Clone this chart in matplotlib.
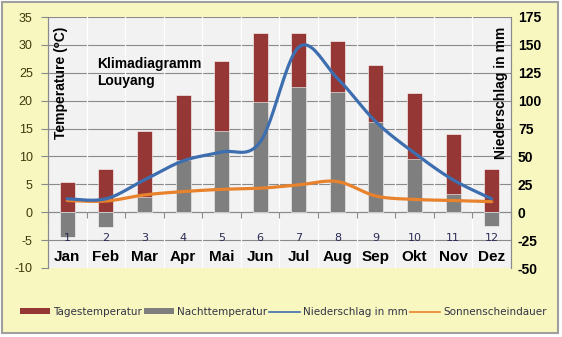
import numpy as np
import matplotlib
matplotlib.use("Agg")
import matplotlib.pyplot as plt
from matplotlib.patches import Rectangle, Patch
from matplotlib.lines import Line2D

months = ["Jan", "Feb", "Mar", "Apr", "Mai", "Jun", "Jul", "Aug", "Sep", "Okt", "Nov", "Dez"]
month_nums = [str(i) for i in range(1, 13)]
day_temp = [5.5, 7.8, 14.5, 21.1, 27.2, 32.2, 32.2, 30.7, 26.4, 21.3, 14.1, 7.8]
night_temp = [-4.4, -2.6, 2.7, 9.3, 14.6, 19.7, 22.5, 21.6, 16.2, 9.6, 3.2, -2.5]
precip_mm = [12, 12, 29, 46, 54, 63, 148, 120, 81, 53, 29, 12]
sunshine = [2.1, 2.0, 3.1, 3.7, 4.1, 4.3, 4.9, 5.5, 2.9, 2.3, 2.1, 1.9]

plt.rcParams['font.family'] = ['Liberation Sans', 'DejaVu Sans']
plt.rcParams['axes.unicode_minus'] = False


def smooth(x, y, n=24):
    # Excel-like smoothed line (Catmull-Rom as cubic Bezier)
    x = np.asarray(x, float)
    y = np.asarray(y, float)
    px = np.concatenate([[x[0]], x, [x[-1]]])
    py = np.concatenate([[y[0]], y, [y[-1]]])
    t = np.linspace(0, 1, n)[:, None]
    xs, ys = [], []
    for i in range(1, len(x)):
        p0 = np.array([px[i], py[i]])
        p3 = np.array([px[i + 1], py[i + 1]])
        c1 = p0 + (np.array([px[i + 1], py[i + 1]]) - np.array([px[i - 1], py[i - 1]])) / 6
        c2 = p3 - (np.array([px[i + 2], py[i + 2]]) - np.array([px[i], py[i]])) / 6
        pts = ((1 - t) ** 3) * p0 + 3 * ((1 - t) ** 2) * t * c1 + 3 * (1 - t) * t ** 2 * c2 + t ** 3 * p3
        xs.append(pts[:, 0])
        ys.append(pts[:, 1])
    return np.concatenate(xs), np.concatenate(ys)


fig = plt.figure(figsize=(5.62, 3.37), dpi=100, facecolor='white')
fig.patches.append(Rectangle((2 / 562, 4 / 337), 556 / 562, 331 / 337, transform=fig.transFigure,
                             facecolor='#f8f7c0', edgecolor='#a0a0a0', lw=1.5, zorder=-5))

ax = fig.add_axes([48 / 562, 69 / 337, 463 / 562, 251 / 337])
ax.set_facecolor('#f2f2f2')
ax2 = ax.twinx()

x = np.arange(1, 13)
ax.set_xlim(0.5, 12.5)
ax.set_ylim(-10, 35)
ax2.set_ylim(-50, 175)

# gridlines
for v in range(-5, 36, 5):
    ax.axhline(v, color='#8a8a8a', lw=0.8, zorder=1)
for b in np.arange(1.5, 12.5, 1):
    ax.axvline(b, color='white', lw=0.9, zorder=1)

ax.bar(x, day_temp, width=0.39, color='#953735', edgecolor='white', lw=0.4, zorder=2)
ax.bar(x, night_temp, width=0.39, color='#7f7f7f', edgecolor='white', lw=0.4, zorder=3)

sx, sy = smooth(x, sunshine)
ax.plot(sx, sy, color='#e8822c', lw=2.3, zorder=4, solid_capstyle='round')
px_, py_ = smooth(x, precip_mm)
ax2.plot(px_, py_, color='#3d6fb0', lw=2.3, zorder=5, solid_capstyle='round')
ax2.set_zorder(ax.get_zorder() + 1)
ax2.patch.set_visible(False)

# x axis at zero
ax.spines['bottom'].set_position(('data', 0))
ax.spines['bottom'].set_color('#8a8a8a')
ax.set_xticks(np.arange(0.5, 13, 1))
ax.set_xticklabels([])
ax.tick_params(axis='x', direction='out', length=4, color='#8a8a8a', width=0.8)

for i in range(12):
    ax.text(x[i], -5.15, month_nums[i], ha='center', va='baseline', fontsize=8,
            color='#2a2a55', family=['DejaVu Sans'], zorder=6)
    ax.text(x[i], -8.75, months[i], ha='center', va='baseline', fontsize=11,
            fontweight='bold', color='black', zorder=6)

ax.set_yticks(range(-10, 36, 5))
ax.tick_params(axis='y', direction='out', length=5, color='#8a8a8a', pad=6,
               labelsize=9, labelcolor='#40380c')
ax2.set_yticks(range(-50, 176, 25))
ax2.tick_params(axis='y', length=0, pad=5, labelsize=10)
for lab in ax2.get_yticklabels():
    lab.set_fontweight('bold')

for a in (ax, ax2):
    a.spines['top'].set_visible(False)
    a.spines['left'].set_color('#8a8a8a')
    a.spines['right'].set_color('#8a8a8a')
ax2.spines['bottom'].set_visible(False)

ax.text(13 / 463, 0.96, 'Temperature (⁰C)', transform=ax.transAxes, rotation=90,
        ha='center', va='top', fontsize=10, fontweight='bold', zorder=6)
ax.text(1 - 10 / 463, 0.96, 'Niederschlag in mm', transform=ax.transAxes, rotation=90,
        ha='center', va='top', fontsize=10, fontweight='bold', zorder=6)
ax.text(49 / 463, 0.73, 'Klimadiagramm\nLouyang', transform=ax.transAxes,
        ha='left', va='baseline', fontsize=10, fontweight='bold', linespacing=1.25, zorder=6)

handles = [Patch(facecolor='#953735'), Patch(facecolor='#7f7f7f'),
           Line2D([], [], color='#3d6fb0', lw=1.2), Line2D([], [], color='#e8822c', lw=1.2)]
labels = ['Tagestemperatur', 'Nachttemperatur', 'Niederschlag in mm', 'Sonnenscheindauer']
leg = fig.legend(handles, labels, loc='center', bbox_to_anchor=(283 / 562, 1 - 312 / 337), ncol=4,
                 frameon=False, handlelength=2.9, handleheight=0.55,
                 handletextpad=0.3, columnspacing=0.2, prop={'family': 'DejaVu Sans', 'size': 7.5})
for t in leg.get_texts():
    t.set_color('#333345')

fig.savefig('out.png', dpi=100, facecolor=fig.get_facecolor())
